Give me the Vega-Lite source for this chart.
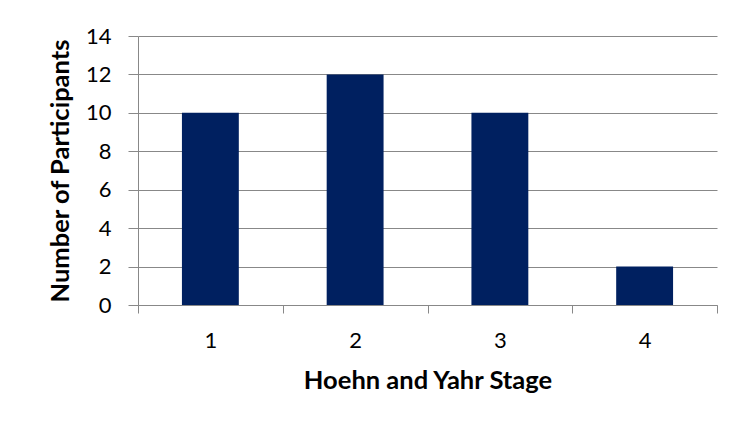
{
  "$schema": "https://vega.github.io/schema/vega-lite/v6.json",
  "width": 579,
  "height": 269,
  "autosize": {"type": "none"},
  "padding": {"left": 138, "top": 36, "right": 16, "bottom": 121},
  "background": "white",
  "data": {"values": [
    {"stage": "1", "participants": 10},
    {"stage": "2", "participants": 12},
    {"stage": "3", "participants": 10},
    {"stage": "4", "participants": 2}
  ]},
  "mark": {"type": "bar", "color": "#002060", "width": {"band": 0.393}},
  "encoding": {
    "x": {
      "field": "stage", "type": "nominal",
      "scale": {"paddingInner": 0, "paddingOuter": 0},
      "axis": {
        "title": "Hoehn and Yahr Stage", "labelAngle": 0,
        "tickBand": "extent", "tickSize": 8, "labelPadding": 17,
        "titlePadding": 17
      }
    },
    "y": {
      "field": "participants", "type": "quantitative",
      "scale": {"domain": [0, 14]},
      "axis": {
        "title": "Number of Participants", "values": [0,2,4,6,8,10,12,14],
        "tickSize": 10, "labelPadding": 17, "titlePadding": 12
      }
    }
  },
  "config": {
    "font": "Lato",
    "view": {"stroke": null},
    "axis": {
      "labelFont": "Lato", "labelFontSize": 22, "labelColor": "#000000",
      "titleFont": "Lato", "titleFontSize": 25.5, "titleFontWeight": "bold", "titleColor": "#000000",
      "domainColor": "#888888", "tickColor": "#888888", "gridColor": "#888888",
      "domainWidth": 1, "tickWidth": 1, "gridWidth": 1
    },
    "axisX": {"grid": false},
    "axisY": {"grid": true, "domain": true}
  }
}
